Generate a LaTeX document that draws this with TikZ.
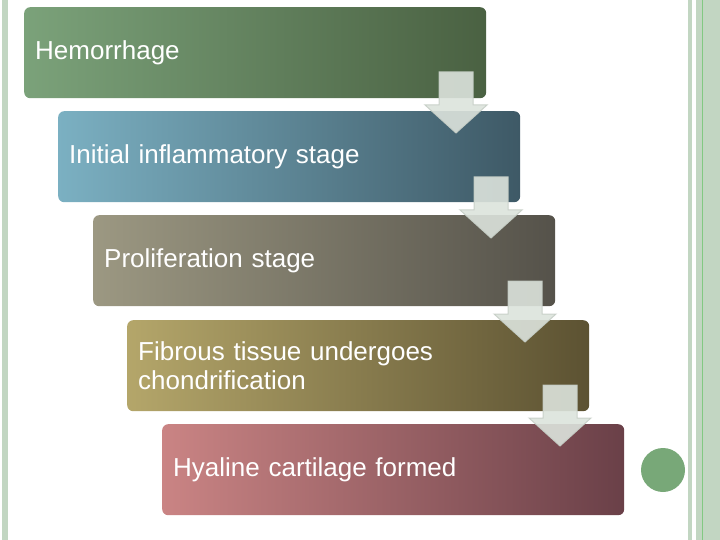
\documentclass[tikz,border=0pt]{standalone}
\usepackage{fontspec}
\setmainfont{Liberation Sans}
\begin{document}
\begin{tikzpicture}[x=1pt,y=-1pt,
  stage/.style={rounded corners=6pt, minimum width=462pt, minimum height=91pt, anchor=north west, text=white, font=\fontsize{26}{29}\selectfont, align=left, text width=440pt, inner xsep=11pt},
  darr/.style={fill=black!4!green!3!gray!25, draw=gray!30, line width=1pt}]
\useasboundingbox (0,0) rectangle (720,540);
\fill[green!20!gray!40] (2,0) rectangle (8,540);
\fill[green!20!gray!40] (688,0) rectangle (692,540);
\fill[green!20!gray!40] (696,0) rectangle (720,540);
\fill[green!40!gray!70] (701.5,0) rectangle (703,540);
\definecolor{c1a}{HTML}{7BA27A}\definecolor{c1b}{HTML}{4A6142}
\definecolor{c2a}{HTML}{7BB0C2}\definecolor{c2b}{HTML}{3E5966}
\definecolor{c3a}{HTML}{9C9882}\definecolor{c3b}{HTML}{55524A}
\definecolor{c4a}{HTML}{B4A66A}\definecolor{c4b}{HTML}{5C5232}
\definecolor{c5a}{HTML}{CA8484}\definecolor{c5b}{HTML}{6A4048}
\definecolor{arf}{HTML}{DCE3DC}\definecolor{ard}{HTML}{C6CEC6}
\node[stage, left color=c1a, right color=c1b] (s1) at (24,7) {Hemorrhage};
\node[stage, left color=c2a, right color=c2b] (s2) at (58,111) {Initial inflammatory stage};
\node[stage, left color=c3a, right color=c3b] (s3) at (93,215) {Proliferation stage};
\node[stage, left color=c4a, right color=c4b] (s4) at (127,320) {Fibrous tissue undergoes\\chondrification};
\node[stage, left color=c5a, right color=c5b] (s5) at (162,424) {Hyaline cartilage formed};
\foreach \i/\dx/\dy in {1/0/0,2/35/105,3/69/209,4/104/313}{
  \draw[fill=arf, draw=ard, line width=1pt, opacity=0.9] (439+\dx,72+\dy) -- (473+\dx,72+\dy) -- (473+\dx,105+\dy) -- (487+\dx,105+\dy) -- (456+\dx,133+\dy) -- (425+\dx,105+\dy) -- (439+\dx,105+\dy) -- cycle;
}
\node[circle, fill={rgb,255:red,120;green,168;blue,120}, minimum size=44pt, inner sep=0pt] (dot) at (663,470) {};
\end{tikzpicture}
\end{document}
